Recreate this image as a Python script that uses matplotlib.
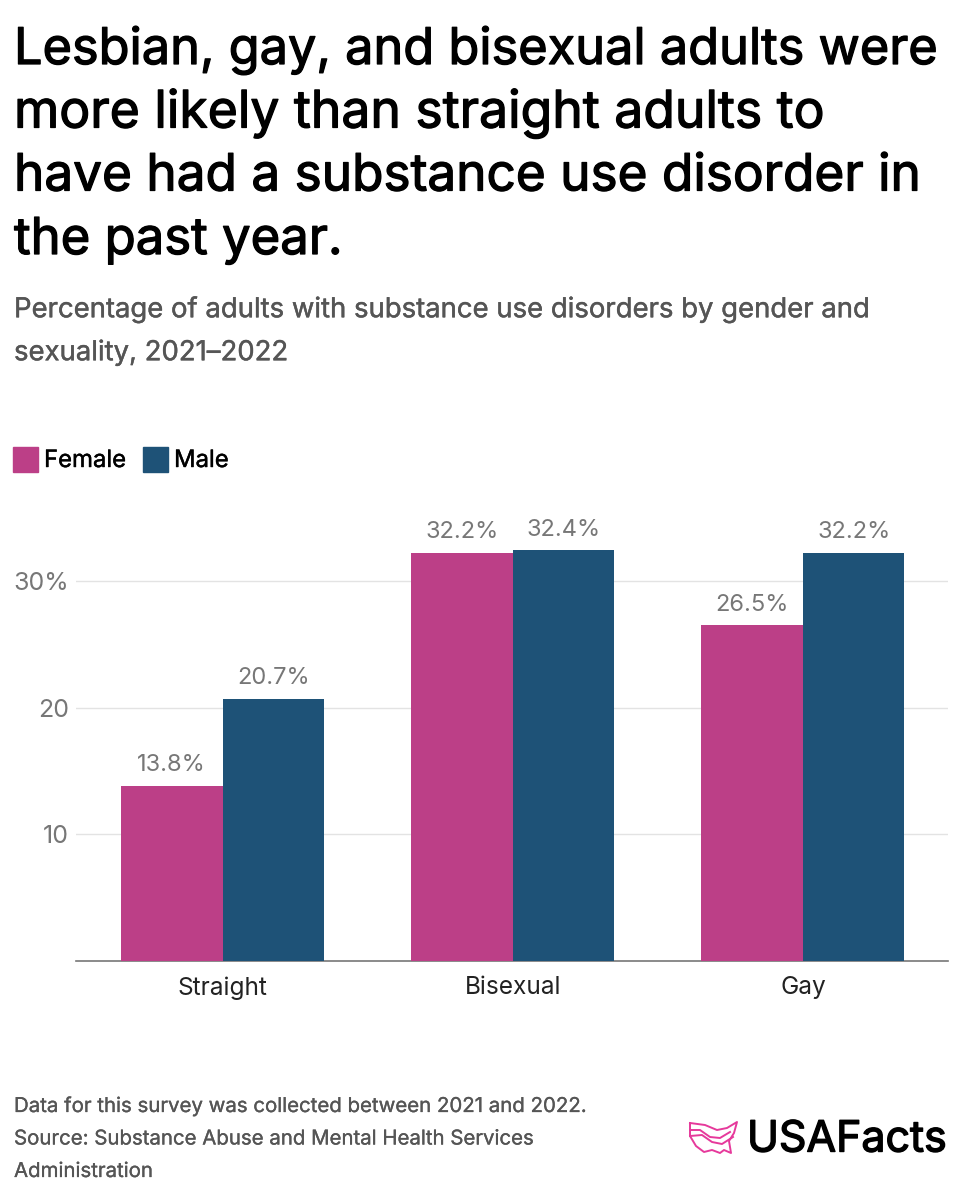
import matplotlib
matplotlib.use("Agg")
import matplotlib.pyplot as plt
import matplotlib.patheffects as pe
import numpy as np

# Data
categories = ["Straight", "Bisexual", "Gay"]
female = [13.8, 32.2, 26.5]
male = [20.7, 32.4, 32.2]
yticks = [10, 20, 30]
ytick_labels = ["10", "20", "30%"]

title_lines = ["Lesbian, gay, and bisexual adults were",
               "more likely than straight adults to",
               "have had a substance use disorder in",
               "the past year."]
title_sizes = [36.35, 37.2, 36.95, 36.6]
subtitle_lines = ["Percentage of adults with substance use disorders by gender and",
                  "sexuality, 2021–2022"]
footer_lines = ["Data for this survey was collected between 2021 and 2022.",
                "Source: Substance Abuse and Mental Health Services",
                "Administration"]

PINK = "#bc3f87"
BLUE = "#1e5277"
W, H = 961, 1200

plt.rcParams["font.family"] = ["Inter", "DejaVu Sans"]

fig = plt.figure(figsize=(W / 100, H / 100), dpi=100)


def px(x, y, s, bold=0, **kw):
    # text placed in picture pixels, bold = stroke width to thicken it
    t = fig.text(x / W, 1 - y / H, s, va="center", ha=kw.pop("ha", "left"), **kw)
    if bold:
        t.set_path_effects([pe.withStroke(linewidth=bold, foreground=kw.get("color", "black"))])


for i, line in enumerate(title_lines):
    px(14, 50 + i * 63.5, line, bold=0.9, fontsize=title_sizes[i], color="#000000")
for i, line in enumerate(subtitle_lines):
    px(14, 310 + i * 43, line, bold=0.3, fontsize=19.8, color="#555555")
for i, line in enumerate(footer_lines):
    px(14, 1107 + i * 32.5, line, bold=0.2, fontsize=14.7, color="#555555")

# Legend
ax_top = 510
fig.patches.append(plt.Rectangle((13 / W, 1 - 472 / H), 25 / W, 25 / H, transform=fig.transFigure, color=PINK))
fig.patches.append(plt.Rectangle((143 / W, 1 - 472 / H), 25 / W, 25 / H, transform=fig.transFigure, color=BLUE))
px(44, 461, "Female", bold=0.3, fontsize=17.2, color="#000000")
px(174, 461, "Male", bold=0.3, fontsize=17.2, color="#000000")

# Chart
ax = fig.add_axes([76 / W, 1 - 961 / H, (948 - 76) / W, (961 - ax_top) / H])
x = np.arange(len(categories))
w = 0.35
b1 = ax.bar(x - w / 2, female, w, color=PINK, zorder=3)
b2 = ax.bar(x + w / 2, male, w, color=BLUE, zorder=3)
ax.bar_label(b1, labels=[f"{v}%" for v in female], padding=7, fontsize=17, color="#777777")
ax.bar_label(b2, labels=[f"{v}%" for v in male], padding=7, fontsize=17, color="#777777")

ax.set_xlim(-0.505, 2.5)
ax.set_ylim(0, (961 - ax_top) / 12.67)
ax.set_yticks(yticks)
ax.set_yticklabels(ytick_labels, fontsize=18, color="#777777")
ax.set_xticks(x)
ax.set_xticklabels(categories, fontsize=17.6, color="#222222")
ax.tick_params(axis="y", length=0, pad=5)
ax.tick_params(axis="x", length=0, pad=11)
ax.grid(axis="y", color="#e3e3e3", linewidth=1, zorder=0)
for s in ["top", "left", "right"]:
    ax.spines[s].set_visible(False)
ax.spines["bottom"].set_color("#777777")
ax.spines["bottom"].set_linewidth(1.2)

# Logo
px(747, 1140, "USAFacts", bold=1.0, fontsize=30.9, color="#000000")
logo = fig.add_axes([688 / W, 1 - 1158 / H, 52 / W, 38 / H])
logo.axis("off")
logo.set_xlim(688, 740)
logo.set_ylim(1158, 1120)
logo.plot([690, 705, 717, 727, 737, 734, 729, 731, 724, 720, 712, 704, 696, 690, 690],
          [1123, 1125, 1130, 1128, 1122, 1133, 1141, 1153, 1150, 1153, 1150, 1152, 1146, 1136, 1123],
          color="#e6399b", lw=1.4)
logo.plot([690, 700, 710, 720, 730], [1130, 1130, 1137, 1138, 1132], color="#e6399b", lw=1.4)
logo.plot([690, 702, 712, 722, 733], [1136, 1135, 1142, 1144, 1137], color="#e6399b", lw=1.4)

fig.savefig("out.png", dpi=100)
